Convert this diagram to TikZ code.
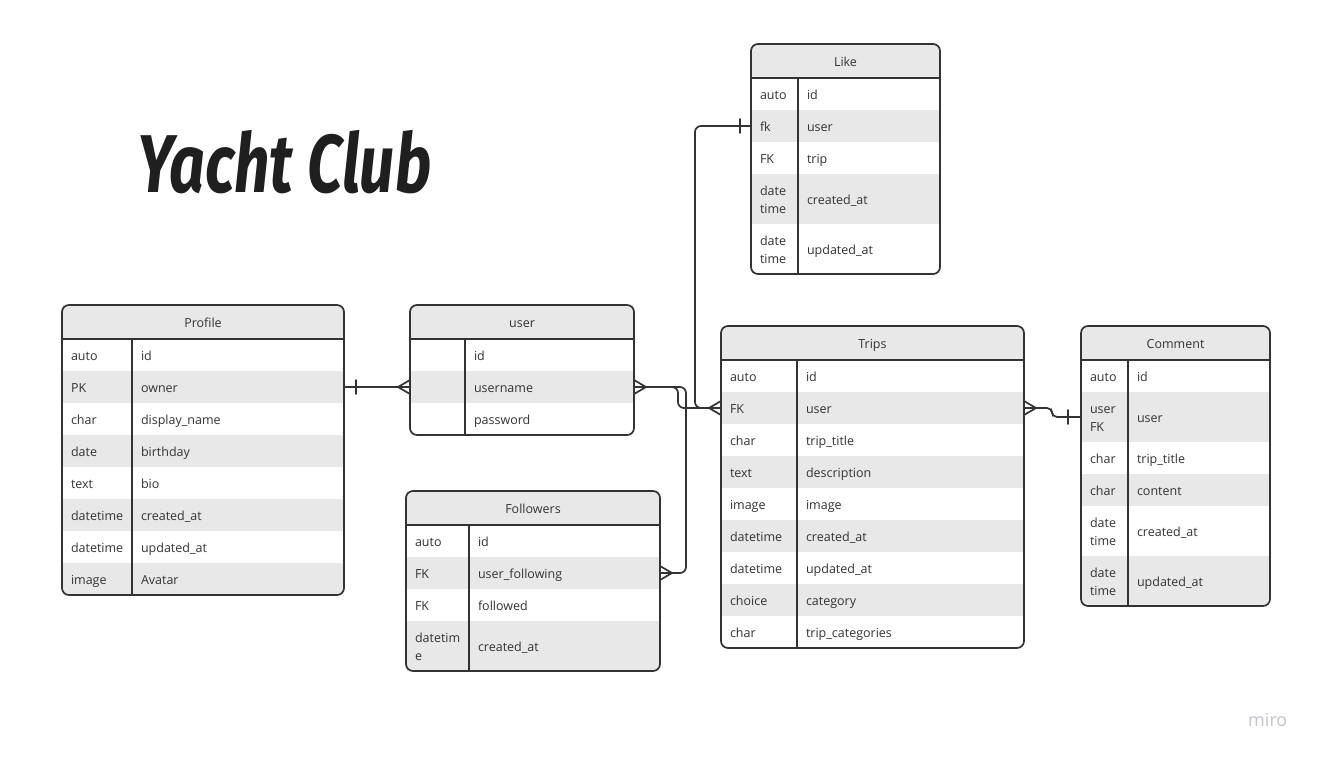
\documentclass[tikz,border=0pt]{standalone}
\usepackage{fontspec}
\setmainfont{Open Sans}
\newfontfamily\titlefont{Fira Sans}
\usetikzlibrary{positioning,calc}
\definecolor{ink}{HTML}{333333}
\definecolor{rowgray}{HTML}{E8E8E8}
\definecolor{wmark}{HTML}{C4C4CC}
\hyphenpenalty=10000 \exhyphenpenalty=10000
\newcommand{\tabfont}{\fontsize{12.5}{18}\selectfont}
\newcommand{\topstrut}{\rule{0pt}{16.6pt}}
\tikzset{
  tbl/.style={inner sep=0, outer sep=0},
  tblhead/.style={fill=rowgray, inner sep=0, outer sep=0, minimum height=34, text=ink, font=\tabfont},
  tblcell/.style={inner xsep=9, inner ysep=0, outer sep=0, align=left, text=ink, font=\tabfont},
  tblline/.style={draw=ink, line width=1.7pt},
  relline/.style={draw=ink, line width=1.7pt, line cap=round},
}
% one table: name, top left, type width, field width, height, title, rows
\newcommand{\entity}[7]{%
  \pgfmathsetmacro\tyw{#3-18}\pgfmathsetmacro\fdw{#4-18}%
  \node (#1) [tbl, minimum width=#3+#4, minimum height=#5, anchor=north west] at (#2) {};
  \begin{scope}
    \clip[rounded corners=7pt] (#1.north west) rectangle (#1.south east);
    \node (#1H) [tblhead, minimum width=#3+#4, anchor=north west] at (#1.north west) {\topstrut\strut #6};
    \foreach \ty/\fd/\rh [count=\i, remember=\i as \j (initially 0)] in {#7} {
      \ifodd\i \def\rowfill{white}\else \def\rowfill{rowgray}\fi
      \ifnum\i=1 \def\rowtop{#1H.south west}\else \def\rowtop{#1T\j.south west}\fi
      \node (#1T\i) [tblcell, fill=\rowfill, text width=\tyw pt, minimum height=\rh, anchor=north west] at (\rowtop) {\topstrut\ty\strut};
      \node (#1F\i) [tblcell, fill=\rowfill, text width=\fdw pt, minimum height=\rh, right=0pt of #1T\i] {\topstrut\fd\strut};
    }
  \end{scope}
  \draw[tblline, rounded corners=7pt] (#1.north west) rectangle (#1.south east);
  \draw[tblline] (#1H.south west) -- (#1H.south east);
  \draw[tblline] ($(#1H.south west)+(#3,0)$) -- ($(#1.south west)+(#3,0)$);
}
\newcommand{\crowfoot}[2]{\draw[relline] ($(#1)+(#2,0)$) -- ($(#1)+(0,7)$) ($(#1)+(#2,0)$) -- ($(#1)+(0,-7)$);}
\newcommand{\onebar}[2]{\draw[relline] ($(#1)+(#2,7)$) -- ($(#1)+(#2,-7)$);}

\begin{document}
\begin{tikzpicture}[x=1pt,y=-1pt]
    \useasboundingbox (0,0) rectangle (1321,756);
    \fill[white] (0,0) rectangle (1321,756);

    % title and watermark
    \node (title) [anchor=base west, inner sep=0, text=black!88] at (137,192) {\titlefont\bfseries\itshape\fontsize{82}{82}\selectfont\scalebox{0.76}[1]{Yacht Club}};
    \node (miro) [anchor=base west, inner sep=0, text=wmark, font=\fontsize{18}{18}\selectfont] at (1248,726) {miro};

    % create the tables
    \entity{prof}{62,305}{70}{212}{290}{Profile}{auto/id/32, PK/owner/32, char/display\_name/32, date/birthday/32, text/bio/32, datetime/created\_at/32, datetime/updated\_at/32, image/Avatar/32}
    \entity{user}{410,305}{55}{169}{130}{user}{/id/32, /username/32, /password/32}
    \entity{like}{751,44}{47}{142}{230}{Like}{auto/id/32, fk/user/32, FK/trip/32, date\\time/created\_at/50, date\\time/updated\_at/50}
    \entity{foll}{406,491}{63}{191}{180}{Followers}{auto/id/32, FK/user\_following/32, FK/followed/32, datetim\\e/created\_at/50}
    \entity{trip}{721,326}{76}{227}{322}{Trips}{auto/id/32, FK/user/32, char/trip\_title/32, text/description/32, image/image/32, datetime/created\_at/32, datetime/updated\_at/32, choice/category/32, char/trip\_categories/32}
    \entity{comm}{1081,326}{47}{142}{280}{Comment}{auto/id/32, user\\FK/user/50, char/trip\_title/32, char/content/32, date\\time/created\_at/50, date\\time/updated\_at/50}

    % connect the tables
    \draw[relline] (profF2.east) -- (userT2.west);
    \draw[relline, rounded corners=6] (userF2.east) -- +(44,0) |- (tripT2.west);
    \draw[relline, rounded corners=6] (userF2.east) -- +(52,0) |- (follF2.east);
    \draw[relline, rounded corners=6] (likeT2.west) -- +(-56,0) |- (tripT2.west);
    \draw[relline, rounded corners=5] (tripF2.east) -- +(28,0) |- (commT2.west);

    % ends
    \onebar{profF2.east}{12}
    \crowfoot{userT2.west}{-12}
    \crowfoot{userF2.east}{12}
    \crowfoot{follF2.east}{12}
    \crowfoot{tripT2.west}{-12}
    \onebar{likeT2.west}{-11}
    \crowfoot{tripF2.east}{12}
    \onebar{commT2.west}{-13}
\end{tikzpicture}
\end{document}
